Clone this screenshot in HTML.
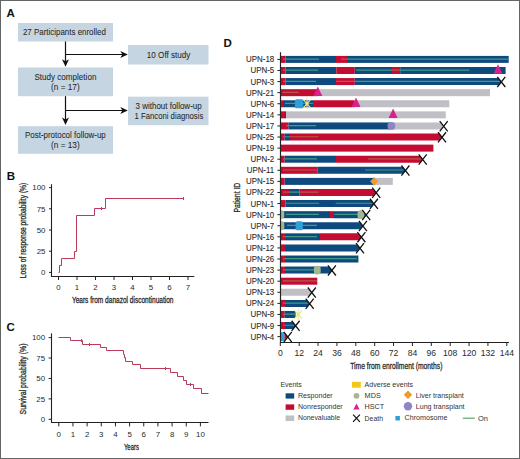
<!DOCTYPE html>
<html><head><meta charset="utf-8"><style>
html,body{margin:0;padding:0;background:#fff;width:520px;height:459px;overflow:hidden}
svg{display:block}
text{font-family:"Liberation Sans", sans-serif}
</style></head><body>
<svg width="520" height="459" viewBox="0 0 520 459">
<rect width="520" height="459" fill="#fff"/>
<rect x="0.5" y="0.5" width="519" height="458" fill="none" stroke="#646464" stroke-width="1"/>
<text x="6.6" y="16.7" font-size="11.5" text-anchor="start" fill="#111" font-weight="bold" >A</text>
<rect x="18" y="23" width="95" height="18.5" fill="#c5d5e1"/>
<rect x="128" y="45" width="80.5" height="19.5" fill="#c5d5e1"/>
<rect x="18" y="67.5" width="95" height="28.700000000000003" fill="#c5d5e1"/>
<rect x="128" y="96.7" width="80.5" height="28.5" fill="#c5d5e1"/>
<rect x="18" y="126.2" width="95" height="27.60000000000001" fill="#c5d5e1"/>
<text x="64.4" y="35.3" font-size="8.6" text-anchor="middle" fill="#262626" font-weight="normal" textLength="83" lengthAdjust="spacingAndGlyphs" stroke="#262626" stroke-width="0.05">27 Participants enrolled</text>
<text x="168.6" y="57.8" font-size="8.6" text-anchor="middle" fill="#262626" font-weight="normal" textLength="43.6" lengthAdjust="spacingAndGlyphs" stroke="#262626" stroke-width="0.05">10 Off study</text>
<text x="65.4" y="79.9" font-size="8.6" text-anchor="middle" fill="#262626" font-weight="normal" textLength="62" lengthAdjust="spacingAndGlyphs" stroke="#262626" stroke-width="0.05">Study completion</text>
<text x="65.4" y="89.6" font-size="8.6" text-anchor="middle" fill="#262626" font-weight="normal" textLength="28.6" lengthAdjust="spacingAndGlyphs" stroke="#262626" stroke-width="0.05">(n = 17)</text>
<text x="168.6" y="109.0" font-size="8.6" text-anchor="middle" fill="#262626" font-weight="normal" textLength="66.2" lengthAdjust="spacingAndGlyphs" stroke="#262626" stroke-width="0.05">3 without follow-up</text>
<text x="168.9" y="118.6" font-size="8.6" text-anchor="middle" fill="#262626" font-weight="normal" textLength="68.8" lengthAdjust="spacingAndGlyphs" stroke="#262626" stroke-width="0.05">1 Fanconi diagnosis</text>
<text x="65.4" y="138.3" font-size="8.6" text-anchor="middle" fill="#262626" font-weight="normal" textLength="80.8" lengthAdjust="spacingAndGlyphs" stroke="#262626" stroke-width="0.05">Post-protocol follow-up</text>
<text x="65.4" y="147.7" font-size="8.6" text-anchor="middle" fill="#262626" font-weight="normal" textLength="28.6" lengthAdjust="spacingAndGlyphs" stroke="#262626" stroke-width="0.05">(n = 13)</text>
<line x1="65.5" y1="41.5" x2="65.5" y2="62.8" stroke="#111" stroke-width="1.2"/>
<path d="M62.0,59.3 L65.5,66.8 L69.0,59.3 L65.5,61.3 Z" fill="#111"/>
<line x1="65.5" y1="54.5" x2="123.8" y2="54.5" stroke="#111" stroke-width="1.2"/>
<path d="M120.3,51.0 L127.8,54.5 L120.3,58.0 L122.3,54.5 Z" fill="#111"/>
<line x1="65.5" y1="96.2" x2="65.5" y2="121" stroke="#111" stroke-width="1.2"/>
<path d="M62.0,117.5 L65.5,125 L69.0,117.5 L65.5,119.5 Z" fill="#111"/>
<line x1="65.5" y1="110.5" x2="123.8" y2="110.5" stroke="#111" stroke-width="1.2"/>
<path d="M120.3,107.0 L127.8,110.5 L120.3,114.0 L122.3,110.5 Z" fill="#111"/>
<text x="6.8" y="180.2" font-size="11.5" text-anchor="start" fill="#111" font-weight="bold" >B</text>
<line x1="51.5" y1="184.2" x2="51.5" y2="277" stroke="#222222" stroke-width="1.1"/>
<line x1="51.1" y1="276.5" x2="194.3" y2="276.5" stroke="#222222" stroke-width="1.1"/>
<line x1="49" y1="187.6" x2="51.6" y2="187.6" stroke="#222222" stroke-width="1"/>
<text x="45.5" y="190.4" font-size="7.9" text-anchor="end" fill="#2a2a2a" font-weight="normal" >100</text>
<line x1="49" y1="208.79999999999998" x2="51.6" y2="208.79999999999998" stroke="#222222" stroke-width="1"/>
<text x="45.5" y="211.6" font-size="7.9" text-anchor="end" fill="#2a2a2a" font-weight="normal" >75</text>
<line x1="49" y1="230.0" x2="51.6" y2="230.0" stroke="#222222" stroke-width="1"/>
<text x="45.5" y="232.8" font-size="7.9" text-anchor="end" fill="#2a2a2a" font-weight="normal" >50</text>
<line x1="49" y1="251.2" x2="51.6" y2="251.2" stroke="#222222" stroke-width="1"/>
<text x="45.5" y="254.0" font-size="7.9" text-anchor="end" fill="#2a2a2a" font-weight="normal" >25</text>
<line x1="49" y1="272.4" x2="51.6" y2="272.4" stroke="#222222" stroke-width="1"/>
<text x="45.5" y="275.2" font-size="7.9" text-anchor="end" fill="#2a2a2a" font-weight="normal" >0</text>
<line x1="58.5" y1="276.5" x2="58.5" y2="280.0" stroke="#222222" stroke-width="1"/>
<text x="58.5" y="290.0" font-size="7.9" text-anchor="middle" fill="#2a2a2a" font-weight="normal" >0</text>
<line x1="77.0" y1="276.5" x2="77.0" y2="280.0" stroke="#222222" stroke-width="1"/>
<text x="77.0" y="290.0" font-size="7.9" text-anchor="middle" fill="#2a2a2a" font-weight="normal" >1</text>
<line x1="95.5" y1="276.5" x2="95.5" y2="280.0" stroke="#222222" stroke-width="1"/>
<text x="95.5" y="290.0" font-size="7.9" text-anchor="middle" fill="#2a2a2a" font-weight="normal" >2</text>
<line x1="114.0" y1="276.5" x2="114.0" y2="280.0" stroke="#222222" stroke-width="1"/>
<text x="114.0" y="290.0" font-size="7.9" text-anchor="middle" fill="#2a2a2a" font-weight="normal" >3</text>
<line x1="132.5" y1="276.5" x2="132.5" y2="280.0" stroke="#222222" stroke-width="1"/>
<text x="132.5" y="290.0" font-size="7.9" text-anchor="middle" fill="#2a2a2a" font-weight="normal" >4</text>
<line x1="151.0" y1="276.5" x2="151.0" y2="280.0" stroke="#222222" stroke-width="1"/>
<text x="151.0" y="290.0" font-size="7.9" text-anchor="middle" fill="#2a2a2a" font-weight="normal" >5</text>
<line x1="169.5" y1="276.5" x2="169.5" y2="280.0" stroke="#222222" stroke-width="1"/>
<text x="169.5" y="290.0" font-size="7.9" text-anchor="middle" fill="#2a2a2a" font-weight="normal" >6</text>
<line x1="188.0" y1="276.5" x2="188.0" y2="280.0" stroke="#222222" stroke-width="1"/>
<text x="188.0" y="290.0" font-size="7.9" text-anchor="middle" fill="#2a2a2a" font-weight="normal" >7</text>
<text x="71.9" y="302.7" font-size="9" text-anchor="start" fill="#2a2a2a" font-weight="normal" textLength="101.6" lengthAdjust="spacingAndGlyphs" stroke="#2a2a2a" stroke-width="0.3">Years from danazol discontinuation</text>
<text x="0" y="0" font-size="9.5" text-anchor="start" fill="#2a2a2a" stroke="#2a2a2a" stroke-width="0.3" textLength="95.5" lengthAdjust="spacingAndGlyphs" transform="translate(26.2,278.2) rotate(-90)">Loss of response probability (%)</text>
<path d="M58.50,272.50 L59.50,272.50 L59.50,265.50 L61.50,265.50 L61.50,258.50 L74.50,258.50 L74.50,251.50 L76.50,251.50 L76.50,215.50 L94.50,215.50 L94.50,208.50 L105.50,208.50 L105.50,198.50 L183.50,198.50" fill="none" stroke="#b93a5b" stroke-width="1.0"/>
<line x1="101.50" y1="207.00" x2="101.50" y2="210.00" stroke="#b93a5b" stroke-width="1"/>
<line x1="183.50" y1="197.00" x2="183.50" y2="200.00" stroke="#b93a5b" stroke-width="1"/>
<text x="6.4" y="330.6" font-size="11.5" text-anchor="start" fill="#111" font-weight="bold" >C</text>
<line x1="51.5" y1="333.3" x2="51.5" y2="423" stroke="#222222" stroke-width="1.1"/>
<line x1="51" y1="422.5" x2="208.5" y2="422.5" stroke="#222222" stroke-width="1.1"/>
<line x1="48.6" y1="337.6" x2="51.2" y2="337.6" stroke="#222222" stroke-width="1"/>
<text x="45.1" y="340.40000000000003" font-size="7.9" text-anchor="end" fill="#2a2a2a" font-weight="normal" >100</text>
<line x1="48.6" y1="358.03000000000003" x2="51.2" y2="358.03000000000003" stroke="#222222" stroke-width="1"/>
<text x="45.1" y="360.83000000000004" font-size="7.9" text-anchor="end" fill="#2a2a2a" font-weight="normal" >75</text>
<line x1="48.6" y1="378.46000000000004" x2="51.2" y2="378.46000000000004" stroke="#222222" stroke-width="1"/>
<text x="45.1" y="381.26000000000005" font-size="7.9" text-anchor="end" fill="#2a2a2a" font-weight="normal" >50</text>
<line x1="48.6" y1="398.89000000000004" x2="51.2" y2="398.89000000000004" stroke="#222222" stroke-width="1"/>
<text x="45.1" y="401.69000000000005" font-size="7.9" text-anchor="end" fill="#2a2a2a" font-weight="normal" >25</text>
<line x1="48.6" y1="419.32000000000005" x2="51.2" y2="419.32000000000005" stroke="#222222" stroke-width="1"/>
<text x="45.1" y="422.12000000000006" font-size="7.9" text-anchor="end" fill="#2a2a2a" font-weight="normal" >0</text>
<line x1="58.8" y1="422.5" x2="58.8" y2="426.4" stroke="#222222" stroke-width="1"/>
<text x="58.8" y="437.2" font-size="7.9" text-anchor="middle" fill="#2a2a2a" font-weight="normal" >0</text>
<line x1="72.96" y1="422.5" x2="72.96" y2="426.4" stroke="#222222" stroke-width="1"/>
<text x="72.96" y="437.2" font-size="7.9" text-anchor="middle" fill="#2a2a2a" font-weight="normal" >1</text>
<line x1="87.12" y1="422.5" x2="87.12" y2="426.4" stroke="#222222" stroke-width="1"/>
<text x="87.12" y="437.2" font-size="7.9" text-anchor="middle" fill="#2a2a2a" font-weight="normal" >2</text>
<line x1="101.28" y1="422.5" x2="101.28" y2="426.4" stroke="#222222" stroke-width="1"/>
<text x="101.28" y="437.2" font-size="7.9" text-anchor="middle" fill="#2a2a2a" font-weight="normal" >3</text>
<line x1="115.44" y1="422.5" x2="115.44" y2="426.4" stroke="#222222" stroke-width="1"/>
<text x="115.44" y="437.2" font-size="7.9" text-anchor="middle" fill="#2a2a2a" font-weight="normal" >4</text>
<line x1="129.6" y1="422.5" x2="129.6" y2="426.4" stroke="#222222" stroke-width="1"/>
<text x="129.6" y="437.2" font-size="7.9" text-anchor="middle" fill="#2a2a2a" font-weight="normal" >5</text>
<line x1="143.76" y1="422.5" x2="143.76" y2="426.4" stroke="#222222" stroke-width="1"/>
<text x="143.76" y="437.2" font-size="7.9" text-anchor="middle" fill="#2a2a2a" font-weight="normal" >6</text>
<line x1="157.92000000000002" y1="422.5" x2="157.92000000000002" y2="426.4" stroke="#222222" stroke-width="1"/>
<text x="157.92000000000002" y="437.2" font-size="7.9" text-anchor="middle" fill="#2a2a2a" font-weight="normal" >7</text>
<line x1="172.07999999999998" y1="422.5" x2="172.07999999999998" y2="426.4" stroke="#222222" stroke-width="1"/>
<text x="172.07999999999998" y="437.2" font-size="7.9" text-anchor="middle" fill="#2a2a2a" font-weight="normal" >8</text>
<line x1="186.24" y1="422.5" x2="186.24" y2="426.4" stroke="#222222" stroke-width="1"/>
<text x="186.24" y="437.2" font-size="7.9" text-anchor="middle" fill="#2a2a2a" font-weight="normal" >9</text>
<line x1="200.39999999999998" y1="422.5" x2="200.39999999999998" y2="426.4" stroke="#222222" stroke-width="1"/>
<text x="200.39999999999998" y="437.2" font-size="7.9" text-anchor="middle" fill="#2a2a2a" font-weight="normal" >10</text>
<text x="123.9" y="449.8" font-size="9" text-anchor="start" fill="#2a2a2a" font-weight="normal" textLength="15" lengthAdjust="spacingAndGlyphs" stroke="#2a2a2a" stroke-width="0.3">Years</text>
<text x="0" y="0" font-size="9.5" text-anchor="start" fill="#2a2a2a" stroke="#2a2a2a" stroke-width="0.3" textLength="71" lengthAdjust="spacingAndGlyphs" transform="translate(26.0,414.5) rotate(-90)">Survival probability (%)</text>
<path d="M58.50,337.50 L70.50,337.50 L70.50,340.50 L82.50,340.50 L82.50,344.50 L100.50,344.50 L100.50,347.50 L106.50,347.50 L106.50,350.50 L123.50,350.50 L123.50,354.50 L124.50,354.50 L124.50,357.50 L125.50,357.50 L125.50,361.50 L132.50,361.50 L132.50,364.50 L140.50,364.50 L140.50,368.50 L170.50,368.50 L170.50,372.50 L177.50,372.50 L177.50,376.50 L183.50,376.50 L183.50,380.50 L186.50,380.50 L186.50,384.50 L193.50,384.50 L193.50,388.50 L201.50,388.50 L201.50,393.50 L208.50,393.50" fill="none" stroke="#b93a5b" stroke-width="1.0"/>
<line x1="81.50" y1="339.00" x2="81.50" y2="342.00" stroke="#b93a5b" stroke-width="1"/>
<line x1="89.50" y1="343.00" x2="89.50" y2="346.00" stroke="#b93a5b" stroke-width="1"/>
<line x1="124.50" y1="355.00" x2="124.50" y2="358.00" stroke="#b93a5b" stroke-width="1"/>
<line x1="165.50" y1="367.00" x2="165.50" y2="370.00" stroke="#b93a5b" stroke-width="1"/>
<line x1="190.50" y1="383.00" x2="190.50" y2="386.00" stroke="#b93a5b" stroke-width="1"/>
<text x="223.6" y="46.5" font-size="11.5" text-anchor="start" fill="#111" font-weight="bold" >D</text>
<text x="274.2" y="62.4" font-size="8.7" text-anchor="end" fill="#2a2a2a" font-weight="normal" textLength="28.1" lengthAdjust="spacingAndGlyphs" stroke="#2a2a2a" stroke-width="0.1">UPN-18</text>
<line x1="277.4" y1="59.40" x2="280.3" y2="59.40" stroke="#222222" stroke-width="1"/>
<text x="274.2" y="73.49" font-size="8.7" text-anchor="end" fill="#2a2a2a" font-weight="normal" textLength="23.7" lengthAdjust="spacingAndGlyphs" stroke="#2a2a2a" stroke-width="0.1">UPN-5</text>
<line x1="277.4" y1="70.49" x2="280.3" y2="70.49" stroke="#222222" stroke-width="1"/>
<text x="274.2" y="84.58" font-size="8.7" text-anchor="end" fill="#2a2a2a" font-weight="normal" textLength="23.7" lengthAdjust="spacingAndGlyphs" stroke="#2a2a2a" stroke-width="0.1">UPN-3</text>
<line x1="277.4" y1="81.58" x2="280.3" y2="81.58" stroke="#222222" stroke-width="1"/>
<text x="274.2" y="95.66999999999999" font-size="8.7" text-anchor="end" fill="#2a2a2a" font-weight="normal" textLength="28.1" lengthAdjust="spacingAndGlyphs" stroke="#2a2a2a" stroke-width="0.1">UPN-21</text>
<line x1="277.4" y1="92.67" x2="280.3" y2="92.67" stroke="#222222" stroke-width="1"/>
<text x="274.2" y="106.75999999999999" font-size="8.7" text-anchor="end" fill="#2a2a2a" font-weight="normal" textLength="23.7" lengthAdjust="spacingAndGlyphs" stroke="#2a2a2a" stroke-width="0.1">UPN-6</text>
<line x1="277.4" y1="103.76" x2="280.3" y2="103.76" stroke="#222222" stroke-width="1"/>
<text x="274.2" y="117.85" font-size="8.7" text-anchor="end" fill="#2a2a2a" font-weight="normal" textLength="28.1" lengthAdjust="spacingAndGlyphs" stroke="#2a2a2a" stroke-width="0.1">UPN-14</text>
<line x1="277.4" y1="114.85" x2="280.3" y2="114.85" stroke="#222222" stroke-width="1"/>
<text x="274.2" y="128.94" font-size="8.7" text-anchor="end" fill="#2a2a2a" font-weight="normal" textLength="28.1" lengthAdjust="spacingAndGlyphs" stroke="#2a2a2a" stroke-width="0.1">UPN-17</text>
<line x1="277.4" y1="125.94" x2="280.3" y2="125.94" stroke="#222222" stroke-width="1"/>
<text x="274.2" y="140.03" font-size="8.7" text-anchor="end" fill="#2a2a2a" font-weight="normal" textLength="28.1" lengthAdjust="spacingAndGlyphs" stroke="#2a2a2a" stroke-width="0.1">UPN-25</text>
<line x1="277.4" y1="137.03" x2="280.3" y2="137.03" stroke="#222222" stroke-width="1"/>
<text x="274.2" y="151.12" font-size="8.7" text-anchor="end" fill="#2a2a2a" font-weight="normal" textLength="28.1" lengthAdjust="spacingAndGlyphs" stroke="#2a2a2a" stroke-width="0.1">UPN-19</text>
<line x1="277.4" y1="148.12" x2="280.3" y2="148.12" stroke="#222222" stroke-width="1"/>
<text x="274.2" y="162.21" font-size="8.7" text-anchor="end" fill="#2a2a2a" font-weight="normal" textLength="23.7" lengthAdjust="spacingAndGlyphs" stroke="#2a2a2a" stroke-width="0.1">UPN-2</text>
<line x1="277.4" y1="159.21" x2="280.3" y2="159.21" stroke="#222222" stroke-width="1"/>
<text x="274.2" y="173.3" font-size="8.7" text-anchor="end" fill="#2a2a2a" font-weight="normal" textLength="27.51" lengthAdjust="spacingAndGlyphs" stroke="#2a2a2a" stroke-width="0.1">UPN-11</text>
<line x1="277.4" y1="170.30" x2="280.3" y2="170.30" stroke="#222222" stroke-width="1"/>
<text x="274.2" y="184.39" font-size="8.7" text-anchor="end" fill="#2a2a2a" font-weight="normal" textLength="28.1" lengthAdjust="spacingAndGlyphs" stroke="#2a2a2a" stroke-width="0.1">UPN-15</text>
<line x1="277.4" y1="181.39" x2="280.3" y2="181.39" stroke="#222222" stroke-width="1"/>
<text x="274.2" y="195.48" font-size="8.7" text-anchor="end" fill="#2a2a2a" font-weight="normal" textLength="28.1" lengthAdjust="spacingAndGlyphs" stroke="#2a2a2a" stroke-width="0.1">UPN-22</text>
<line x1="277.4" y1="192.48" x2="280.3" y2="192.48" stroke="#222222" stroke-width="1"/>
<text x="274.2" y="206.57" font-size="8.7" text-anchor="end" fill="#2a2a2a" font-weight="normal" textLength="23.7" lengthAdjust="spacingAndGlyphs" stroke="#2a2a2a" stroke-width="0.1">UPN-1</text>
<line x1="277.4" y1="203.57" x2="280.3" y2="203.57" stroke="#222222" stroke-width="1"/>
<text x="274.2" y="217.66" font-size="8.7" text-anchor="end" fill="#2a2a2a" font-weight="normal" textLength="28.1" lengthAdjust="spacingAndGlyphs" stroke="#2a2a2a" stroke-width="0.1">UPN-10</text>
<line x1="277.4" y1="214.66" x2="280.3" y2="214.66" stroke="#222222" stroke-width="1"/>
<text x="274.2" y="228.75" font-size="8.7" text-anchor="end" fill="#2a2a2a" font-weight="normal" textLength="23.7" lengthAdjust="spacingAndGlyphs" stroke="#2a2a2a" stroke-width="0.1">UPN-7</text>
<line x1="277.4" y1="225.75" x2="280.3" y2="225.75" stroke="#222222" stroke-width="1"/>
<text x="274.2" y="239.84" font-size="8.7" text-anchor="end" fill="#2a2a2a" font-weight="normal" textLength="28.1" lengthAdjust="spacingAndGlyphs" stroke="#2a2a2a" stroke-width="0.1">UPN-16</text>
<line x1="277.4" y1="236.84" x2="280.3" y2="236.84" stroke="#222222" stroke-width="1"/>
<text x="274.2" y="250.93" font-size="8.7" text-anchor="end" fill="#2a2a2a" font-weight="normal" textLength="28.1" lengthAdjust="spacingAndGlyphs" stroke="#2a2a2a" stroke-width="0.1">UPN-12</text>
<line x1="277.4" y1="247.93" x2="280.3" y2="247.93" stroke="#222222" stroke-width="1"/>
<text x="274.2" y="262.02" font-size="8.7" text-anchor="end" fill="#2a2a2a" font-weight="normal" textLength="28.1" lengthAdjust="spacingAndGlyphs" stroke="#2a2a2a" stroke-width="0.1">UPN-26</text>
<line x1="277.4" y1="259.02" x2="280.3" y2="259.02" stroke="#222222" stroke-width="1"/>
<text x="274.2" y="273.11" font-size="8.7" text-anchor="end" fill="#2a2a2a" font-weight="normal" textLength="28.1" lengthAdjust="spacingAndGlyphs" stroke="#2a2a2a" stroke-width="0.1">UPN-23</text>
<line x1="277.4" y1="270.11" x2="280.3" y2="270.11" stroke="#222222" stroke-width="1"/>
<text x="274.2" y="284.2" font-size="8.7" text-anchor="end" fill="#2a2a2a" font-weight="normal" textLength="28.1" lengthAdjust="spacingAndGlyphs" stroke="#2a2a2a" stroke-width="0.1">UPN-20</text>
<line x1="277.4" y1="281.20" x2="280.3" y2="281.20" stroke="#222222" stroke-width="1"/>
<text x="274.2" y="295.28999999999996" font-size="8.7" text-anchor="end" fill="#2a2a2a" font-weight="normal" textLength="28.1" lengthAdjust="spacingAndGlyphs" stroke="#2a2a2a" stroke-width="0.1">UPN-13</text>
<line x1="277.4" y1="292.29" x2="280.3" y2="292.29" stroke="#222222" stroke-width="1"/>
<text x="274.2" y="306.38" font-size="8.7" text-anchor="end" fill="#2a2a2a" font-weight="normal" textLength="28.1" lengthAdjust="spacingAndGlyphs" stroke="#2a2a2a" stroke-width="0.1">UPN-24</text>
<line x1="277.4" y1="303.38" x2="280.3" y2="303.38" stroke="#222222" stroke-width="1"/>
<text x="274.2" y="317.46999999999997" font-size="8.7" text-anchor="end" fill="#2a2a2a" font-weight="normal" textLength="23.7" lengthAdjust="spacingAndGlyphs" stroke="#2a2a2a" stroke-width="0.1">UPN-8</text>
<line x1="277.4" y1="314.47" x2="280.3" y2="314.47" stroke="#222222" stroke-width="1"/>
<text x="274.2" y="328.55999999999995" font-size="8.7" text-anchor="end" fill="#2a2a2a" font-weight="normal" textLength="23.7" lengthAdjust="spacingAndGlyphs" stroke="#2a2a2a" stroke-width="0.1">UPN-9</text>
<line x1="277.4" y1="325.56" x2="280.3" y2="325.56" stroke="#222222" stroke-width="1"/>
<text x="274.2" y="339.65" font-size="8.7" text-anchor="end" fill="#2a2a2a" font-weight="normal" textLength="23.7" lengthAdjust="spacingAndGlyphs" stroke="#2a2a2a" stroke-width="0.1">UPN-4</text>
<line x1="277.4" y1="336.65" x2="280.3" y2="336.65" stroke="#222222" stroke-width="1"/>
<defs><clipPath id="cp"><rect x="280.6" y="40" width="239" height="310"/></clipPath></defs><g clip-path="url(#cp)">
<rect x="281.00" y="55.90" width="4.50" height="7" fill="#c40c32"/>
<rect x="285.50" y="55.90" width="50.50" height="7" fill="#0f4a7f"/>
<rect x="336.00" y="55.90" width="11.00" height="7" fill="#c40c32"/>
<rect x="347.00" y="55.90" width="161.70" height="7" fill="#0f4a7f"/>
<line x1="283.00" y1="59.10" x2="285.50" y2="59.10" stroke="#b3584a" stroke-width="1.2"/>
<line x1="285.50" y1="59.10" x2="319.00" y2="59.10" stroke="#3f9c84" stroke-width="1.2"/>
<line x1="341.00" y1="59.10" x2="347.00" y2="59.10" stroke="#b3584a" stroke-width="1.2"/>
<line x1="347.00" y1="59.10" x2="508.50" y2="59.10" stroke="#3f9c84" stroke-width="1.2"/>
<rect x="281.00" y="66.99" width="4.50" height="7" fill="#c40c32"/>
<rect x="285.50" y="66.99" width="50.80" height="7" fill="#0f4a7f"/>
<rect x="336.30" y="66.99" width="18.50" height="7" fill="#c40c32"/>
<rect x="354.80" y="66.99" width="37.20" height="7" fill="#0f4a7f"/>
<rect x="392.00" y="66.99" width="8.20" height="7" fill="#c40c32"/>
<rect x="400.20" y="66.99" width="105.40" height="7" fill="#0f4a7f"/>
<line x1="283.00" y1="70.19" x2="285.50" y2="70.19" stroke="#b3584a" stroke-width="1.2"/>
<line x1="285.50" y1="70.19" x2="318.00" y2="70.19" stroke="#3f9c84" stroke-width="1.2"/>
<line x1="356.00" y1="70.19" x2="392.00" y2="70.19" stroke="#3f9c84" stroke-width="1.2"/>
<line x1="392.00" y1="70.19" x2="400.20" y2="70.19" stroke="#b3584a" stroke-width="1.2"/>
<line x1="400.20" y1="70.19" x2="469.40" y2="70.19" stroke="#3f9c84" stroke-width="1.2"/>
<path d="M498.00,64.27 L502.50,73.77 L493.50,73.77 Z" fill="#d9218c"/>
<rect x="281.00" y="78.08" width="4.50" height="7" fill="#c40c32"/>
<rect x="285.50" y="78.08" width="50.50" height="7" fill="#0f4a7f"/>
<rect x="336.00" y="78.08" width="18.80" height="7" fill="#c40c32"/>
<path d="M354.80,78.08 L498.55,78.08 L501.30,81.88 L498.55,85.08 L354.80,85.08 Z" fill="#0f4a7f"/>
<line x1="283.00" y1="81.28" x2="285.50" y2="81.28" stroke="#b3584a" stroke-width="1.2"/>
<line x1="285.50" y1="81.28" x2="316.00" y2="81.28" stroke="#3f9c84" stroke-width="1.2"/>
<line x1="336.00" y1="81.28" x2="354.80" y2="81.28" stroke="#b3584a" stroke-width="1.2"/>
<line x1="354.80" y1="81.28" x2="500.00" y2="81.28" stroke="#3f9c84" stroke-width="1.2"/>
<path d="M497.30,76.78 L505.30,86.98 M497.30,86.98 L505.30,76.78" stroke="#111" stroke-width="1.3" fill="none"/>
<rect x="281.00" y="89.17" width="36.50" height="7" fill="#c40c32"/>
<rect x="317.50" y="89.17" width="172.50" height="7" fill="#c0bfc5"/>
<line x1="282.60" y1="92.37" x2="298.80" y2="92.37" stroke="#b3584a" stroke-width="1.2"/>
<path d="M317.80,86.44 L322.30,95.94 L313.30,95.94 Z" fill="#d9218c"/>
<rect x="281.00" y="100.26" width="2.00" height="7" fill="#c40c32"/>
<rect x="283.00" y="100.26" width="30.00" height="7" fill="#0f4a7f"/>
<rect x="313.00" y="100.26" width="41.20" height="7" fill="#c40c32"/>
<rect x="354.20" y="100.26" width="95.10" height="7" fill="#c0bfc5"/>
<line x1="285.00" y1="103.46" x2="295.30" y2="103.46" stroke="#3f9c84" stroke-width="1.2"/>
<line x1="303.00" y1="103.46" x2="313.00" y2="103.46" stroke="#3f9c84" stroke-width="1.2"/>
<rect x="294.90" y="99.16" width="8.40" height="9.2" rx="1.5" fill="#2f9fd8"/>
<path d="M356.00,97.53 L360.50,107.03 L351.50,107.03 Z" fill="#d9218c"/>
<path d="M307.00,98.26 L307.00,109.26 M303.40,99.56 L310.60,107.96 M303.40,107.96 L310.60,99.56" stroke="#ece68a" stroke-width="1.1" fill="none"/>
<circle cx="307.00" cy="103.76" r="1.6" fill="#ece68a"/>
<rect x="281.00" y="111.35" width="4.00" height="7" fill="#c40c32"/>
<rect x="285.00" y="111.35" width="1.30" height="7" fill="#0f4a7f"/>
<rect x="286.30" y="111.35" width="159.50" height="7" fill="#c0bfc5"/>
<path d="M393.10,108.62 L397.60,118.12 L388.60,118.12 Z" fill="#d9218c"/>
<rect x="281.00" y="122.44" width="7.40" height="7" fill="#c40c32"/>
<rect x="288.40" y="122.44" width="102.60" height="7" fill="#0f4a7f"/>
<path d="M391.00,122.44 L440.95,122.44 L443.70,126.24 L440.95,129.44 L391.00,129.44 Z" fill="#c0bfc5"/>
<line x1="286.00" y1="125.64" x2="288.40" y2="125.64" stroke="#b3584a" stroke-width="1.2"/>
<line x1="288.40" y1="125.64" x2="316.00" y2="125.64" stroke="#3f9c84" stroke-width="1.2"/>
<circle cx="391.40" cy="125.94" r="3.9" fill="#8c85c6"/>
<path d="M439.70,121.14 L447.70,131.34 M439.70,131.34 L447.70,121.14" stroke="#111" stroke-width="1.3" fill="none"/>
<rect x="281.00" y="133.53" width="3.70" height="7" fill="#c40c32"/>
<rect x="284.70" y="133.53" width="5.30" height="7" fill="#0f4a7f"/>
<path d="M290.00,133.53 L439.25,133.53 L442.00,137.33 L439.25,140.53 L290.00,140.53 Z" fill="#c40c32"/>
<line x1="283.00" y1="136.73" x2="284.70" y2="136.73" stroke="#b3584a" stroke-width="1.2"/>
<line x1="284.70" y1="136.73" x2="290.00" y2="136.73" stroke="#3f9c84" stroke-width="1.2"/>
<line x1="290.00" y1="136.73" x2="318.40" y2="136.73" stroke="#b3584a" stroke-width="1.2"/>
<path d="M438.00,132.23 L446.00,142.43 M438.00,142.43 L446.00,132.23" stroke="#111" stroke-width="1.3" fill="none"/>
<rect x="281.00" y="144.62" width="152.40" height="7" fill="#c40c32"/>
<rect x="281.00" y="155.71" width="3.70" height="7" fill="#c40c32"/>
<rect x="284.70" y="155.71" width="51.30" height="7" fill="#0f4a7f"/>
<path d="M336.00,155.71 L419.95,155.71 L422.70,159.51 L419.95,162.71 L336.00,162.71 Z" fill="#c40c32"/>
<line x1="283.00" y1="158.91" x2="284.70" y2="158.91" stroke="#b3584a" stroke-width="1.2"/>
<line x1="284.70" y1="158.91" x2="317.00" y2="158.91" stroke="#3f9c84" stroke-width="1.2"/>
<line x1="368.00" y1="158.91" x2="421.00" y2="158.91" stroke="#b3584a" stroke-width="1.2"/>
<path d="M418.70,154.41 L426.70,164.61 M418.70,164.61 L426.70,154.41" stroke="#111" stroke-width="1.3" fill="none"/>
<rect x="281.00" y="166.80" width="36.70" height="7" fill="#c40c32"/>
<path d="M317.70,166.80 L402.65,166.80 L405.40,170.60 L402.65,173.80 L317.70,173.80 Z" fill="#0f4a7f"/>
<line x1="283.00" y1="170.00" x2="317.00" y2="170.00" stroke="#b3584a" stroke-width="1.2"/>
<line x1="365.00" y1="170.00" x2="403.50" y2="170.00" stroke="#3f9c84" stroke-width="1.2"/>
<path d="M401.40,165.50 L409.40,175.70 M401.40,175.70 L409.40,165.50" stroke="#111" stroke-width="1.3" fill="none"/>
<rect x="281.00" y="177.89" width="3.70" height="7" fill="#c40c32"/>
<rect x="284.70" y="177.89" width="89.50" height="7" fill="#0f4a7f"/>
<rect x="374.20" y="177.89" width="18.60" height="7" fill="#c0bfc5"/>
<path d="M374.20,177.49 L377.80,181.39 L374.20,185.29 L370.60,181.39 Z" fill="#ef9a2a" stroke="#ef9a2a" stroke-width="0.8" stroke-linejoin="round"/>
<rect x="281.00" y="188.98" width="8.00" height="7" fill="#c40c32"/>
<rect x="289.00" y="188.98" width="10.30" height="7" fill="#0f4a7f"/>
<path d="M299.30,188.98 L373.45,188.98 L376.20,192.78 L373.45,195.98 L299.30,195.98 Z" fill="#c40c32"/>
<line x1="283.00" y1="192.18" x2="289.00" y2="192.18" stroke="#b3584a" stroke-width="1.2"/>
<line x1="289.00" y1="192.18" x2="299.30" y2="192.18" stroke="#3f9c84" stroke-width="1.2"/>
<line x1="299.30" y1="192.18" x2="318.40" y2="192.18" stroke="#b3584a" stroke-width="1.2"/>
<path d="M372.20,187.68 L380.20,197.88 M372.20,197.88 L380.20,187.68" stroke="#111" stroke-width="1.3" fill="none"/>
<rect x="281.00" y="200.07" width="4.50" height="7" fill="#c40c32"/>
<path d="M285.50,200.07 L371.15,200.07 L373.90,203.87 L371.15,207.07 L285.50,207.07 Z" fill="#0f4a7f"/>
<line x1="286.00" y1="203.27" x2="319.00" y2="203.27" stroke="#3f9c84" stroke-width="1.2"/>
<line x1="335.70" y1="203.27" x2="372.80" y2="203.27" stroke="#3f9c84" stroke-width="1.2"/>
<path d="M369.90,198.77 L377.90,208.97 M369.90,208.97 L377.90,198.77" stroke="#111" stroke-width="1.3" fill="none"/>
<rect x="281.00" y="211.16" width="49.00" height="7" fill="#0f4a7f"/>
<rect x="330.00" y="211.16" width="4.00" height="7" fill="#c40c32"/>
<path d="M334.00,211.16 L363.45,211.16 L366.20,214.96 L363.45,218.16 L334.00,218.16 Z" fill="#0f4a7f"/>
<line x1="286.00" y1="214.36" x2="319.00" y2="214.36" stroke="#3f9c84" stroke-width="1.2"/>
<line x1="334.50" y1="214.36" x2="362.00" y2="214.36" stroke="#3f9c84" stroke-width="1.2"/>
<rect x="277.50" y="210.26" width="6.8" height="8.8" rx="3.2" fill="#a3b88f"/>
<rect x="357.50" y="210.26" width="6.8" height="8.8" rx="3.2" fill="#a3b88f"/>
<path d="M362.20,209.86 L370.20,220.06 M362.20,220.06 L370.20,209.86" stroke="#111" stroke-width="1.3" fill="none"/>
<path d="M281.00,222.25 L360.15,222.25 L362.90,226.05 L360.15,229.25 L281.00,229.25 Z" fill="#0f4a7f"/>
<line x1="287.00" y1="225.45" x2="317.00" y2="225.45" stroke="#3f9c84" stroke-width="1.2"/>
<rect x="295.60" y="221.15" width="7.20" height="9.2" rx="1.5" fill="#2f9fd8"/>
<rect x="277.50" y="221.35" width="6.8" height="8.8" rx="3.2" fill="#a3b88f"/>
<path d="M358.90,220.95 L366.90,231.15 M358.90,231.15 L366.90,220.95" stroke="#111" stroke-width="1.3" fill="none"/>
<rect x="281.00" y="233.34" width="4.00" height="7" fill="#c40c32"/>
<rect x="285.00" y="233.34" width="35.00" height="7" fill="#0f4a7f"/>
<path d="M320.00,233.34 L358.65,233.34 L361.40,237.14 L358.65,240.34 L320.00,240.34 Z" fill="#c40c32"/>
<line x1="283.00" y1="236.54" x2="285.00" y2="236.54" stroke="#b3584a" stroke-width="1.2"/>
<line x1="285.00" y1="236.54" x2="317.00" y2="236.54" stroke="#3f9c84" stroke-width="1.2"/>
<path d="M357.40,232.04 L365.40,242.24 M357.40,242.24 L365.40,232.04" stroke="#111" stroke-width="1.3" fill="none"/>
<rect x="281.00" y="244.43" width="4.00" height="7" fill="#c40c32"/>
<path d="M285.00,244.43 L357.25,244.43 L360.00,248.23 L357.25,251.43 L285.00,251.43 Z" fill="#0f4a7f"/>
<path d="M356.00,243.13 L364.00,253.33 M356.00,253.33 L364.00,243.13" stroke="#111" stroke-width="1.3" fill="none"/>
<rect x="281.00" y="255.52" width="4.00" height="7" fill="#c40c32"/>
<rect x="285.00" y="255.52" width="73.40" height="7" fill="#0f4a7f"/>
<line x1="283.00" y1="258.72" x2="285.00" y2="258.72" stroke="#b3584a" stroke-width="1.2"/>
<line x1="285.00" y1="258.72" x2="357.00" y2="258.72" stroke="#3f9c84" stroke-width="1.2"/>
<rect x="281.00" y="266.61" width="4.00" height="7" fill="#c40c32"/>
<path d="M285.00,266.61 L329.15,266.61 L331.90,270.41 L329.15,273.61 L285.00,273.61 Z" fill="#0f4a7f"/>
<line x1="283.00" y1="269.81" x2="285.00" y2="269.81" stroke="#b3584a" stroke-width="1.2"/>
<line x1="285.00" y1="269.81" x2="316.00" y2="269.81" stroke="#3f9c84" stroke-width="1.2"/>
<rect x="313.90" y="265.71" width="6.8" height="8.8" rx="3.2" fill="#a3b88f"/>
<path d="M327.90,265.31 L335.90,275.51 M327.90,275.51 L335.90,265.31" stroke="#111" stroke-width="1.3" fill="none"/>
<rect x="281.00" y="277.70" width="36.30" height="7" fill="#c40c32"/>
<line x1="283.00" y1="280.90" x2="317.00" y2="280.90" stroke="#b3584a" stroke-width="1.2"/>
<path d="M281.00,288.79 L309.05,288.79 L311.80,292.59 L309.05,295.79 L281.00,295.79 Z" fill="#c0bfc5"/>
<path d="M307.80,287.49 L315.80,297.69 M307.80,297.69 L315.80,287.49" stroke="#111" stroke-width="1.3" fill="none"/>
<rect x="281.00" y="299.88" width="4.00" height="7" fill="#c40c32"/>
<path d="M285.00,299.88 L306.95,299.88 L309.70,303.68 L306.95,306.88 L285.00,306.88 Z" fill="#0f4a7f"/>
<line x1="283.00" y1="303.08" x2="285.00" y2="303.08" stroke="#b3584a" stroke-width="1.2"/>
<line x1="285.00" y1="303.08" x2="308.00" y2="303.08" stroke="#3f9c84" stroke-width="1.2"/>
<path d="M305.70,298.58 L313.70,308.78 M305.70,308.78 L313.70,298.58" stroke="#111" stroke-width="1.3" fill="none"/>
<rect x="281.00" y="310.97" width="3.70" height="7" fill="#c40c32"/>
<rect x="284.70" y="310.97" width="10.90" height="7" fill="#0f4a7f"/>
<line x1="283.00" y1="314.17" x2="284.70" y2="314.17" stroke="#b3584a" stroke-width="1.2"/>
<line x1="284.70" y1="314.17" x2="295.00" y2="314.17" stroke="#3f9c84" stroke-width="1.2"/>
<path d="M298.20,308.97 L298.20,319.97 M294.60,310.27 L301.80,318.67 M294.60,318.67 L301.80,310.27" stroke="#ece68a" stroke-width="1.1" fill="none"/>
<circle cx="298.20" cy="314.47" r="1.6" fill="#ece68a"/>
<rect x="281.00" y="322.06" width="4.00" height="7" fill="#c40c32"/>
<path d="M285.00,322.06 L292.85,322.06 L295.60,325.86 L292.85,329.06 L285.00,329.06 Z" fill="#0f4a7f"/>
<line x1="283.00" y1="325.26" x2="285.00" y2="325.26" stroke="#b3584a" stroke-width="1.2"/>
<line x1="285.00" y1="325.26" x2="294.00" y2="325.26" stroke="#3f9c84" stroke-width="1.2"/>
<path d="M291.60,320.76 L299.60,330.96 M291.60,330.96 L299.60,320.76" stroke="#111" stroke-width="1.3" fill="none"/>
<path d="M284.30,333.15 L285.05,333.15 L287.80,336.95 L285.05,340.15 L284.30,340.15 Z" fill="#c40c32"/>
<rect x="281.00" y="332.15" width="3.30" height="9" fill="#2f9fd8"/>
<path d="M283.80,331.85 L291.80,342.05 M283.80,342.05 L291.80,331.85" stroke="#111" stroke-width="1.3" fill="none"/>
</g>
<line x1="280.5" y1="52.3" x2="280.5" y2="343" stroke="#222222" stroke-width="1.2"/>
<line x1="280" y1="342.5" x2="509" y2="342.5" stroke="#222222" stroke-width="1.1"/>
<line x1="280.30" y1="342.5" x2="280.30" y2="346.0" stroke="#222222" stroke-width="1"/>
<text x="280.3" y="356.0" font-size="8.6" text-anchor="middle" fill="#2a2a2a" font-weight="normal" >0</text>
<line x1="299.18" y1="342.5" x2="299.18" y2="346.0" stroke="#222222" stroke-width="1"/>
<text x="299.18" y="356.0" font-size="8.6" text-anchor="middle" fill="#2a2a2a" font-weight="normal" >12</text>
<line x1="318.05" y1="342.5" x2="318.05" y2="346.0" stroke="#222222" stroke-width="1"/>
<text x="318.05" y="356.0" font-size="8.6" text-anchor="middle" fill="#2a2a2a" font-weight="normal" >24</text>
<line x1="336.93" y1="342.5" x2="336.93" y2="346.0" stroke="#222222" stroke-width="1"/>
<text x="336.93" y="356.0" font-size="8.6" text-anchor="middle" fill="#2a2a2a" font-weight="normal" >36</text>
<line x1="355.80" y1="342.5" x2="355.80" y2="346.0" stroke="#222222" stroke-width="1"/>
<text x="355.8" y="356.0" font-size="8.6" text-anchor="middle" fill="#2a2a2a" font-weight="normal" >48</text>
<line x1="374.68" y1="342.5" x2="374.68" y2="346.0" stroke="#222222" stroke-width="1"/>
<text x="374.68" y="356.0" font-size="8.6" text-anchor="middle" fill="#2a2a2a" font-weight="normal" >60</text>
<line x1="393.55" y1="342.5" x2="393.55" y2="346.0" stroke="#222222" stroke-width="1"/>
<text x="393.55" y="356.0" font-size="8.6" text-anchor="middle" fill="#2a2a2a" font-weight="normal" >72</text>
<line x1="412.43" y1="342.5" x2="412.43" y2="346.0" stroke="#222222" stroke-width="1"/>
<text x="412.43" y="356.0" font-size="8.6" text-anchor="middle" fill="#2a2a2a" font-weight="normal" >84</text>
<line x1="431.30" y1="342.5" x2="431.30" y2="346.0" stroke="#222222" stroke-width="1"/>
<text x="431.3" y="356.0" font-size="8.6" text-anchor="middle" fill="#2a2a2a" font-weight="normal" >96</text>
<line x1="450.18" y1="342.5" x2="450.18" y2="346.0" stroke="#222222" stroke-width="1"/>
<text x="450.18" y="356.0" font-size="8.6" text-anchor="middle" fill="#2a2a2a" font-weight="normal" >108</text>
<line x1="469.05" y1="342.5" x2="469.05" y2="346.0" stroke="#222222" stroke-width="1"/>
<text x="469.05" y="356.0" font-size="8.6" text-anchor="middle" fill="#2a2a2a" font-weight="normal" >120</text>
<line x1="487.93" y1="342.5" x2="487.93" y2="346.0" stroke="#222222" stroke-width="1"/>
<text x="487.93" y="356.0" font-size="8.6" text-anchor="middle" fill="#2a2a2a" font-weight="normal" >132</text>
<line x1="506.80" y1="342.5" x2="506.80" y2="346.0" stroke="#222222" stroke-width="1"/>
<text x="506.8" y="356.0" font-size="8.6" text-anchor="middle" fill="#2a2a2a" font-weight="normal" >144</text>
<text x="350.2" y="369.0" font-size="9.3" text-anchor="start" fill="#2a2a2a" font-weight="normal" textLength="92.2" lengthAdjust="spacingAndGlyphs" stroke="#2a2a2a" stroke-width="0.3">Time from enrollment (months)</text>
<text x="0" y="0" font-size="9.5" text-anchor="start" fill="#2a2a2a" stroke="#2a2a2a" stroke-width="0.3" textLength="29.8" lengthAdjust="spacingAndGlyphs" transform="translate(240.0,212.6) rotate(-90)">Patient ID</text>
<text x="280.4" y="386.7" font-size="7" text-anchor="start" fill="#333" font-weight="normal" >Events</text>
<rect x="285.6" y="393.3" width="8.6" height="5.3" fill="#0f4a7f"/>
<rect x="285.6" y="404.4" width="8.6" height="5.4" fill="#c40c32"/>
<rect x="285.6" y="415.5" width="8.6" height="5.5" fill="#c0bfc5"/>
<text x="298" y="398.1" font-size="7" text-anchor="start" fill="#333" font-weight="normal" textLength="34.7" lengthAdjust="spacingAndGlyphs" >Responder</text>
<text x="298" y="409.2" font-size="7" text-anchor="start" fill="#333" font-weight="normal" textLength="44.7" lengthAdjust="spacingAndGlyphs" >Nonresponder</text>
<text x="298" y="420.2" font-size="7" text-anchor="start" fill="#333" font-weight="normal" textLength="42" lengthAdjust="spacingAndGlyphs" >Nonevaluable</text>
<rect x="352" y="381.8" width="8.8" height="5.9" fill="#f3c61c"/>
<text x="364.6" y="387.2" font-size="7" text-anchor="start" fill="#333" font-weight="normal" textLength="48.5" lengthAdjust="spacingAndGlyphs" >Adverse events</text>
<circle cx="356.5" cy="395.8" r="2.9" fill="#a3b88f"/>
<text x="364.6" y="398.3" font-size="7" text-anchor="start" fill="#333" font-weight="normal" textLength="16.2" lengthAdjust="spacingAndGlyphs" >MDS</text>
<path d="M356.5,403.6 L359.6,409.4 L353.4,409.4 Z" fill="#d9218c"/>
<text x="364.6" y="409.3" font-size="7" text-anchor="start" fill="#333" font-weight="normal" textLength="19.6" lengthAdjust="spacingAndGlyphs" >HSCT</text>
<path d="M353.10,414.60 L359.90,421.80 M353.10,421.80 L359.90,414.60" stroke="#111" stroke-width="1.2" fill="none"/>
<text x="364.6" y="420.7" font-size="7" text-anchor="start" fill="#333" font-weight="normal" textLength="18.4" lengthAdjust="spacingAndGlyphs" >Death</text>
<path d="M408,390.6 L412.2,394.8 L408,399 L403.8,394.8 Z" fill="#ef9a2a"/>
<text x="415.8" y="397.5" font-size="7" text-anchor="start" fill="#333" font-weight="normal" textLength="48" lengthAdjust="spacingAndGlyphs" >Liver transplant</text>
<circle cx="408" cy="406.3" r="4.2" fill="#8c85c6"/>
<text x="415.8" y="408.8" font-size="7" text-anchor="start" fill="#333" font-weight="normal" textLength="48.8" lengthAdjust="spacingAndGlyphs" >Lung transplant</text>
<rect x="395.4" y="416" width="4.5" height="4.5" fill="#2f9fd8"/>
<text x="404.6" y="420.3" font-size="7" text-anchor="start" fill="#333" font-weight="normal" textLength="42.8" lengthAdjust="spacingAndGlyphs" >Chromosome</text>
<line x1="462.8" y1="418.2" x2="474.8" y2="418.2" stroke="#4f9d64" stroke-width="1.1"/>
<text x="478" y="420.7" font-size="7" text-anchor="start" fill="#333" font-weight="normal" textLength="9.9" lengthAdjust="spacingAndGlyphs" >On</text>
</svg>
</body></html>
